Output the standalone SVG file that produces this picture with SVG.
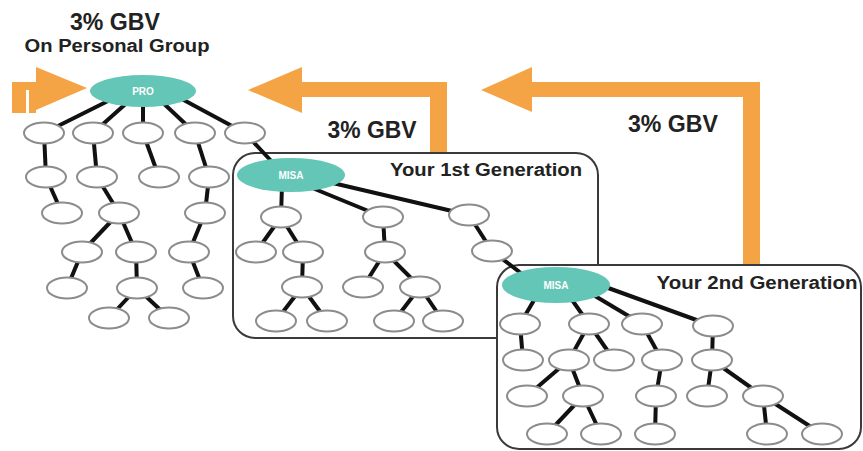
<svg xmlns="http://www.w3.org/2000/svg" width="863" height="451" viewBox="0 0 863 451">
<style>
.arr{fill:#f5a445}
.box{fill:#ffffff;stroke:#3a3a3a;stroke-width:2}
.n{fill:#ffffff;stroke:#8c8c8c;stroke-width:2}
.big{fill:#63c6b6}
.e line{stroke:#111111;stroke-width:4;stroke-linecap:butt}
.lbl{font-family:"Liberation Sans",Arial,sans-serif;font-weight:bold;fill:#222222}
.in{font-family:"Liberation Sans",Arial,sans-serif;font-weight:bold;fill:#ffffff;font-size:10px;text-anchor:middle}
</style>
<rect width="863" height="451" fill="#ffffff"/>

<g id="arrows">
  <path class="arr" d="M12,82 H36 V67 L87,88 L36,110 V113 H29 V90 H26 V113 H12 Z"/>
  <path class="arr" d="M447,153 V82 H302 V67 L248,90 L302,113 V97 H430 V153 Z"/>
  <path class="arr" d="M760,265 V82 H532 V67 L481,90 L532,112 V97 H743 V265 Z"/>
</g>

<g id="labels">
  <text class="lbl" x="115" y="30" font-size="24" text-anchor="middle" textLength="90" lengthAdjust="spacingAndGlyphs">3% GBV</text>
  <text class="lbl" x="117" y="52" font-size="18" text-anchor="middle" textLength="185" lengthAdjust="spacingAndGlyphs">On Personal Group</text>
  <text class="lbl" x="372" y="138" font-size="24" text-anchor="middle" textLength="89" lengthAdjust="spacingAndGlyphs">3% GBV</text>
  <text class="lbl" x="673" y="132" font-size="24" text-anchor="middle" textLength="90" lengthAdjust="spacingAndGlyphs">3% GBV</text>
</g>

<g id="gen1">
  <rect class="box" x="233" y="153" width="365" height="185" rx="22"/>
  <text class="lbl" x="486" y="176" font-size="18" text-anchor="middle" textLength="192" lengthAdjust="spacingAndGlyphs">Your 1st Generation</text>
</g>
<g id="gen2">
  <rect class="box" x="497" y="265" width="364" height="184" rx="22"/>
  <text class="lbl" x="757" y="289" font-size="18" text-anchor="middle" textLength="201" lengthAdjust="spacingAndGlyphs">Your 2nd Generation</text>
</g>

<g id="connectors" class="e">
  <line x1="110" y1="100" x2="44" y2="133"/>
  <line x1="130" y1="100" x2="93" y2="133"/>
  <line x1="143" y1="100" x2="143" y2="133"/>
  <line x1="160" y1="100" x2="195" y2="133"/>
  <line x1="180" y1="98" x2="245" y2="133"/>
  <line x1="44" y1="133" x2="46" y2="177"/>
  <line x1="93" y1="133" x2="97" y2="177"/>
  <line x1="143" y1="133" x2="159" y2="177"/>
  <line x1="195" y1="133" x2="209" y2="177"/>
  <line x1="46" y1="177" x2="62" y2="213"/>
  <line x1="97" y1="177" x2="119" y2="213"/>
  <line x1="209" y1="177" x2="205" y2="213"/>
  <line x1="119" y1="213" x2="82" y2="252"/>
  <line x1="119" y1="213" x2="136" y2="252"/>
  <line x1="205" y1="213" x2="189" y2="252"/>
  <line x1="82" y1="252" x2="67" y2="288"/>
  <line x1="136" y1="252" x2="137" y2="288"/>
  <line x1="189" y1="252" x2="203" y2="288"/>
  <line x1="137" y1="288" x2="109" y2="318"/>
  <line x1="137" y1="288" x2="169" y2="318"/>
  <line x1="245" y1="133" x2="275" y2="165"/>

  <line x1="282" y1="185" x2="281" y2="217"/>
  <line x1="305" y1="185" x2="383" y2="217"/>
  <line x1="320" y1="180" x2="469" y2="215"/>
  <line x1="281" y1="217" x2="256" y2="252"/>
  <line x1="281" y1="217" x2="303" y2="252"/>
  <line x1="303" y1="252" x2="302" y2="287"/>
  <line x1="302" y1="287" x2="276" y2="321"/>
  <line x1="302" y1="287" x2="327" y2="321"/>
  <line x1="383" y1="217" x2="385" y2="252"/>
  <line x1="385" y1="252" x2="363" y2="287"/>
  <line x1="385" y1="252" x2="420" y2="287"/>
  <line x1="420" y1="287" x2="394" y2="321"/>
  <line x1="420" y1="287" x2="443" y2="321"/>
  <line x1="469" y1="215" x2="492" y2="251"/>
  <line x1="492" y1="251" x2="530" y2="280"/>

  <line x1="540" y1="290" x2="520" y2="324"/>
  <line x1="565" y1="290" x2="589" y2="324"/>
  <line x1="585" y1="290" x2="642" y2="324"/>
  <line x1="600" y1="285" x2="713" y2="326"/>
  <line x1="520" y1="324" x2="523" y2="360"/>
  <line x1="589" y1="324" x2="569" y2="360"/>
  <line x1="589" y1="324" x2="614" y2="360"/>
  <line x1="642" y1="324" x2="662" y2="360"/>
  <line x1="713" y1="326" x2="712" y2="360"/>
  <line x1="569" y1="360" x2="527" y2="396"/>
  <line x1="569" y1="360" x2="583" y2="396"/>
  <line x1="662" y1="360" x2="656" y2="396"/>
  <line x1="712" y1="360" x2="707" y2="396"/>
  <line x1="712" y1="360" x2="763" y2="396"/>
  <line x1="583" y1="396" x2="547" y2="434"/>
  <line x1="583" y1="396" x2="601" y2="434"/>
  <line x1="656" y1="396" x2="655" y2="434"/>
  <line x1="763" y1="396" x2="767" y2="434"/>
  <line x1="763" y1="396" x2="822" y2="434"/>
</g>

<g id="pro"><ellipse class="big" cx="143" cy="91" rx="53" ry="16"/><text class="in" x="143" y="95">PRO</text></g>
<g id="misa1"><ellipse class="big" cx="291" cy="175" rx="54" ry="17"/><text class="in" x="291" y="179">MISA</text></g>
<g id="misa2"><ellipse class="big" cx="556" cy="285" rx="54" ry="18"/><text class="in" x="556" y="289">MISA</text></g>

<g id="personal-nodes">
  <g id="p1"><ellipse class="n" cx="44" cy="133" rx="20" ry="10.5"/></g>
  <g id="p2"><ellipse class="n" cx="93" cy="133" rx="20" ry="10.5"/></g>
  <g id="p3"><ellipse class="n" cx="143" cy="133" rx="20" ry="10.5"/></g>
  <g id="p4"><ellipse class="n" cx="195" cy="133" rx="20" ry="10.5"/></g>
  <g id="p5"><ellipse class="n" cx="245" cy="133" rx="20" ry="10.5"/></g>
  <g id="p1a"><ellipse class="n" cx="46" cy="177" rx="20" ry="10.5"/></g>
  <g id="p2a"><ellipse class="n" cx="97" cy="177" rx="20" ry="10.5"/></g>
  <g id="p3a"><ellipse class="n" cx="159" cy="177" rx="20" ry="10.5"/></g>
  <g id="p4a"><ellipse class="n" cx="209" cy="177" rx="20" ry="10.5"/></g>
  <g id="p1b"><ellipse class="n" cx="62" cy="213" rx="20" ry="10.5"/></g>
  <g id="p2b"><ellipse class="n" cx="119" cy="213" rx="20" ry="10.5"/></g>
  <g id="p4b"><ellipse class="n" cx="205" cy="213" rx="20" ry="10.5"/></g>
  <g id="p2c"><ellipse class="n" cx="82" cy="252" rx="20" ry="10.5"/></g>
  <g id="p2d"><ellipse class="n" cx="136" cy="252" rx="20" ry="10.5"/></g>
  <g id="p4c"><ellipse class="n" cx="189" cy="252" rx="20" ry="10.5"/></g>
  <g id="p2e"><ellipse class="n" cx="67" cy="288" rx="20" ry="10.5"/></g>
  <g id="p2f"><ellipse class="n" cx="137" cy="288" rx="20" ry="10.5"/></g>
  <g id="p4d"><ellipse class="n" cx="203" cy="288" rx="20" ry="10.5"/></g>
  <g id="p2g"><ellipse class="n" cx="109" cy="318" rx="20" ry="10.5"/></g>
  <g id="p2h"><ellipse class="n" cx="169" cy="318" rx="20" ry="10.5"/></g>
</g>

<g id="gen1-nodes">
  <g id="m1"><ellipse class="n" cx="281" cy="217" rx="20" ry="10.5"/></g>
  <g id="m2"><ellipse class="n" cx="383" cy="217" rx="20" ry="10.5"/></g>
  <g id="m3"><ellipse class="n" cx="469" cy="215" rx="20" ry="10.5"/></g>
  <g id="m1a"><ellipse class="n" cx="256" cy="252" rx="20" ry="10.5"/></g>
  <g id="m1b"><ellipse class="n" cx="303" cy="252" rx="20" ry="10.5"/></g>
  <g id="m1c"><ellipse class="n" cx="302" cy="287" rx="20" ry="10.5"/></g>
  <g id="m1d"><ellipse class="n" cx="276" cy="321" rx="20" ry="10.5"/></g>
  <g id="m1e"><ellipse class="n" cx="327" cy="321" rx="20" ry="10.5"/></g>
  <g id="m2a"><ellipse class="n" cx="385" cy="252" rx="20" ry="10.5"/></g>
  <g id="m2b"><ellipse class="n" cx="363" cy="287" rx="20" ry="10.5"/></g>
  <g id="m2c"><ellipse class="n" cx="420" cy="287" rx="20" ry="10.5"/></g>
  <g id="m2d"><ellipse class="n" cx="394" cy="321" rx="20" ry="10.5"/></g>
  <g id="m2e"><ellipse class="n" cx="443" cy="321" rx="20" ry="10.5"/></g>
  <g id="m3a"><ellipse class="n" cx="492" cy="251" rx="20" ry="10.5"/></g>
</g>

<g id="gen2-nodes">
  <g id="n1"><ellipse class="n" cx="520" cy="324" rx="20" ry="10.5"/></g>
  <g id="n2"><ellipse class="n" cx="589" cy="324" rx="20" ry="10.5"/></g>
  <g id="n3"><ellipse class="n" cx="642" cy="324" rx="20" ry="10.5"/></g>
  <g id="n4"><ellipse class="n" cx="713" cy="326" rx="20" ry="10.5"/></g>
  <g id="n1a"><ellipse class="n" cx="523" cy="360" rx="20" ry="10.5"/></g>
  <g id="n2a"><ellipse class="n" cx="569" cy="360" rx="20" ry="10.5"/></g>
  <g id="n2b"><ellipse class="n" cx="614" cy="360" rx="20" ry="10.5"/></g>
  <g id="n3a"><ellipse class="n" cx="662" cy="360" rx="20" ry="10.5"/></g>
  <g id="n4a"><ellipse class="n" cx="712" cy="360" rx="20" ry="10.5"/></g>
  <g id="n2c"><ellipse class="n" cx="527" cy="396" rx="20" ry="10.5"/></g>
  <g id="n2d"><ellipse class="n" cx="583" cy="396" rx="20" ry="10.5"/></g>
  <g id="n3b"><ellipse class="n" cx="656" cy="396" rx="20" ry="10.5"/></g>
  <g id="n4b"><ellipse class="n" cx="707" cy="396" rx="20" ry="10.5"/></g>
  <g id="n4c"><ellipse class="n" cx="763" cy="396" rx="20" ry="10.5"/></g>
  <g id="n2e"><ellipse class="n" cx="547" cy="434" rx="20" ry="10.5"/></g>
  <g id="n2f"><ellipse class="n" cx="601" cy="434" rx="20" ry="10.5"/></g>
  <g id="n3c"><ellipse class="n" cx="655" cy="434" rx="20" ry="10.5"/></g>
  <g id="n4d"><ellipse class="n" cx="767" cy="434" rx="20" ry="10.5"/></g>
  <g id="n4e"><ellipse class="n" cx="822" cy="434" rx="20" ry="10.5"/></g>
</g>
</svg>
